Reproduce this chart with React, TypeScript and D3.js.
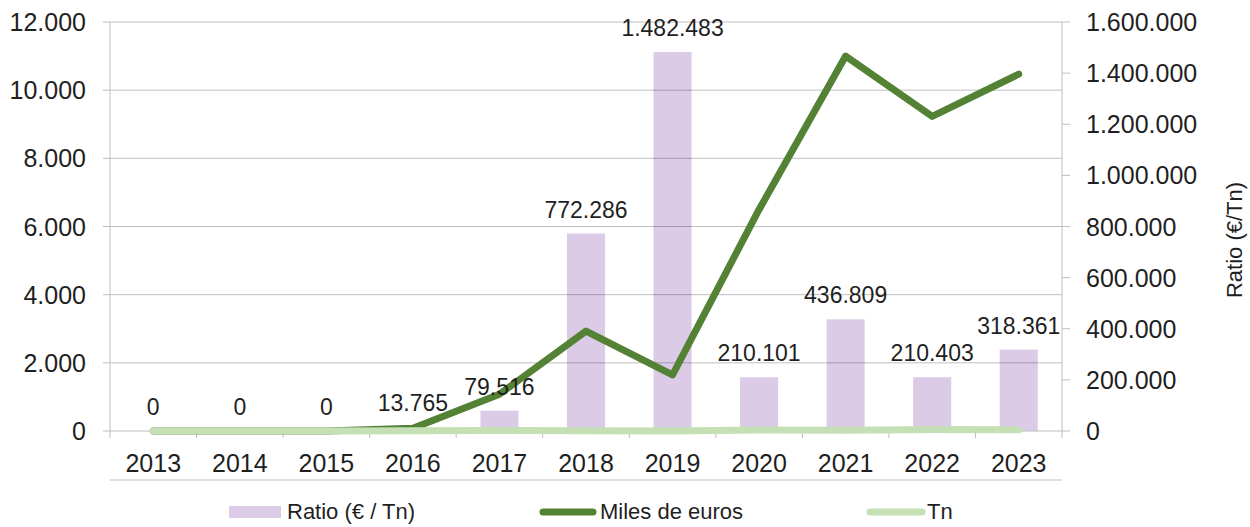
import React from "react";
import * as d3 from "d3";

const years = ["2013","2014","2015","2016","2017","2018","2019","2020","2021","2022","2023"];
const ratio = [0, 0, 0, 13765, 79516, 772286, 1482483, 210101, 436809, 210403, 318361];
const milesEuros = [0, 0, 0, 80, 1080, 2930, 1650, 6500, 11000, 9230, 10470];
const tn = [0, 0, 0, 7, 14, 4, 1, 31, 25, 44, 33];
const leftTicks = [0, 2000, 4000, 6000, 8000, 10000, 12000];
const rightTicks = [0, 200000, 400000, 600000, 800000, 1000000, 1200000, 1400000, 1600000];

const W = 1250, H = 527;
const X0 = 110, X1 = 1062, YT = 22, YB = 431;
const FONT = "'Liberation Sans', Arial, sans-serif";
const TXT = "#1f1f1f";
const BAR = "#dccbe6";
const DARK = "#548235";
const LIGHT = "#c5e0b4";

const fmt = (v: number) => {
  const s = Math.round(v).toString();
  return s.replace(/\B(?=(\d{3})+(?!\d))/g, ".");
};

export default function App() {
  const x = d3.scaleBand<string>().domain(years).range([X0, X1]).paddingInner(0.56).paddingOuter(0.28);
  const yL = d3.scaleLinear().domain([0, 12000]).range([YB, YT]);
  const yR = d3.scaleLinear().domain([0, 1600000]).range([YB, YT]);
  const cx = (y: string) => (x(y) as number) + x.bandwidth() / 2;
  const step = x.step();

  const lineL = d3.line<number>().x((_, i) => cx(years[i])).y((d) => yL(d));

  return (
    <svg width={W} height={H} style={{ position: "absolute", left: 0, top: 0, background: "#fff" }} fontFamily={FONT}>
      {ratio.map((v, i) => (
        <rect key={"b" + i} x={x(years[i])} y={yR(v)} width={x.bandwidth()} height={YB - yR(v)} fill={BAR} />
      ))}
      {leftTicks.slice(1).map((t) => (
        <line key={"g" + t} x1={X0} x2={X1} y1={yL(t)} y2={yL(t)} stroke="#000" strokeOpacity={0.25} strokeWidth={1} />
      ))}
      <line x1={X0} x2={X0} y1={YT} y2={YB} stroke="#bfbfbf" />
      {leftTicks.map((t) => (
        <g key={"lt" + t}>
          <line x1={X0 - 7} x2={X0} y1={yL(t)} y2={yL(t)} stroke="#bfbfbf" />
          <text x={86} y={yL(t)} dy="0.36em" textAnchor="end" fontSize={25} fill={TXT}>{fmt(t)}</text>
        </g>
      ))}
      <line x1={X1} x2={X1} y1={YT} y2={YB + 7} stroke="#bfbfbf" />
      {rightTicks.map((t) => (
        <g key={"rt" + t}>
          <line x1={X1} x2={X1 + 8} y1={yR(t)} y2={yR(t)} stroke="#bfbfbf" />
          <text x={1086} y={yR(t)} dy="0.36em" textAnchor="start" fontSize={25} fill={TXT}>{fmt(t)}</text>
        </g>
      ))}
      <text transform={`translate(1242,${240}) rotate(-90)`} textAnchor="middle" fontSize={22} fill={TXT}>Ratio (€/Tn)</text>
      <line x1={X0} x2={X1} y1={YB} y2={YB} stroke="#bfbfbf" />
      {years.map((y, i) => (
        <line key={"xt" + i} x1={X0 + step * i} x2={X0 + step * i} y1={YB} y2={YB + 7} stroke="#bfbfbf" />
      ))}
      {years.map((y) => (
        <text key={"xl" + y} x={cx(y)} y={472} textAnchor="middle" fontSize={25} fill={TXT}>{y}</text>
      ))}
      <line x1={X0} x2={X1} y1={480} y2={480} stroke="#bfbfbf" />
      <path d={lineL(milesEuros) || ""} fill="none" stroke={DARK} strokeWidth={7} strokeLinejoin="round" strokeLinecap="round" />
      <path d={lineL(tn) || ""} fill="none" stroke={LIGHT} strokeWidth={7} strokeLinejoin="round" strokeLinecap="round" />
      {ratio.map((v, i) => (
        <text key={"dl" + i} x={cx(years[i])} y={yR(v) - 16} textAnchor="middle" fontSize={23} fill={TXT}>{fmt(v)}</text>
      ))}
      <rect x={229} y={506} width={52} height={12} fill={BAR} />
      <text x={287} y={519} fontSize={22} fill={TXT}>Ratio (€ / Tn)</text>
      <line x1={543} x2={593} y1={512} y2={512} stroke={DARK} strokeWidth={7} strokeLinecap="round" />
      <text x={600} y={519} fontSize={22} fill={TXT}>Miles de euros</text>
      <line x1={870} x2={922} y1={512} y2={512} stroke={LIGHT} strokeWidth={7} strokeLinecap="round" />
      <text x={927} y={519} fontSize={22} fill={TXT}>Tn</text>
    </svg>
  );
}
